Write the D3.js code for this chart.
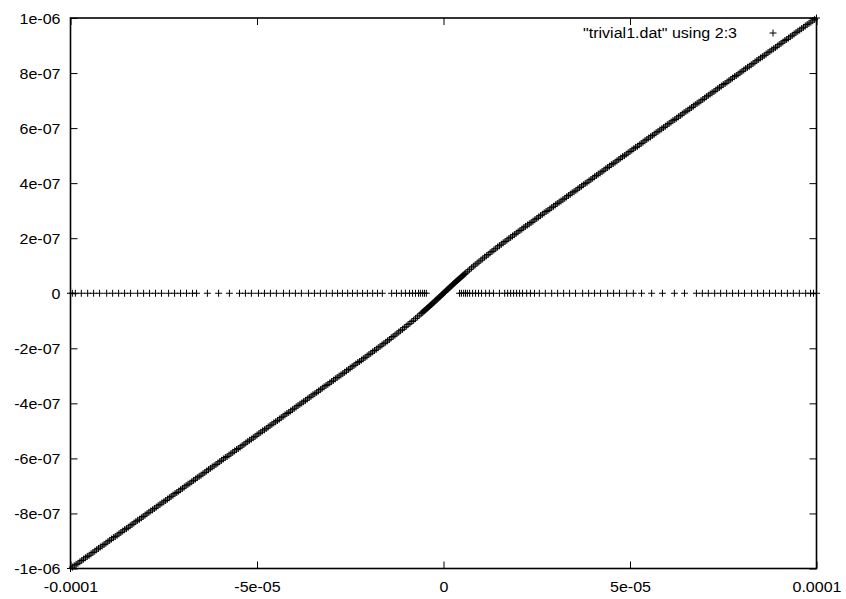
<!DOCTYPE html>
<html>
<head>
<meta charset="utf-8">
<script src="https://cdn.jsdelivr.net/npm/d3@7"></script>
<style>
  body { margin: 0; background: #fff; }
  svg { display: block; }
  text { font-family: "Liberation Sans", Arial, Helvetica, sans-serif; font-size: 15px; fill: #000; }
</style>
</head>
<body>
<svg id="chart" width="846" height="599"></svg>
<script>
// Axis ticks and labels (gnuplot-style exponent formatting)
const xTicks = [-1e-4, -5e-5, 0, 5e-5, 1e-4];
const xTickLabels = ["-0.0001", "-5e-05", "0", "5e-05", "0.0001"];
const yTicks = [-1e-6, -8e-7, -6e-7, -4e-7, -2e-7, 0, 2e-7, 4e-7, 6e-7, 8e-7, 1e-6];
const yTickLabels = ["-1e-06", "-8e-07", "-6e-07", "-4e-07", "-2e-07", "0", "2e-07", "4e-07", "6e-07", "8e-07", "1e-06"];
const seriesLabel = '"trivial1.dat" using 2:3';

// trivial1.dat, columns 2:3 — the diagonal branch
const diagX = [
  -100e-6,-99.5e-6,-99e-6,-98.5e-6,-98e-6,-97.5e-6,-97e-6,-96.5e-6,-96e-6,-95.5e-6,
  -95e-6,-94.5e-6,-94e-6,-93.5e-6,-93e-6,-92.5e-6,-92e-6,-91.5e-6,-91e-6,-90.5e-6,
  -90e-6,-89.5e-6,-89e-6,-88.5e-6,-88e-6,-87.5e-6,-87e-6,-86.5e-6,-86e-6,-85.5e-6,
  -85e-6,-84.5e-6,-84e-6,-83.5e-6,-83e-6,-82.5e-6,-82e-6,-81.5e-6,-81e-6,-80.5e-6,
  -80e-6,-79.5e-6,-79e-6,-78.5e-6,-78e-6,-77.5e-6,-77e-6,-76.5e-6,-76e-6,-75.5e-6,
  -75e-6,-74.5e-6,-74e-6,-73.5e-6,-73e-6,-72.5e-6,-72e-6,-71.5e-6,-71e-6,-70.5e-6,
  -70e-6,-69.5e-6,-69e-6,-68.5e-6,-68e-6,-67.5e-6,-67e-6,-66.5e-6,-66e-6,-65.5e-6,
  -65e-6,-64.5e-6,-64e-6,-63.5e-6,-63e-6,-62.5e-6,-62e-6,-61.5e-6,-61e-6,-60.5e-6,
  -60e-6,-59.5e-6,-59e-6,-58.5e-6,-58e-6,-57.5e-6,-57e-6,-56.5e-6,-56e-6,-55.5e-6,
  -55e-6,-54.5e-6,-54e-6,-53.5e-6,-53e-6,-52.5e-6,-52e-6,-51.5e-6,-51e-6,-50.5e-6,
  -50e-6,-49.5e-6,-49e-6,-48.5e-6,-48e-6,-47.5e-6,-47e-6,-46.5e-6,-46e-6,-45.5e-6,
  -45e-6,-44.5e-6,-44e-6,-43.5e-6,-43e-6,-42.5e-6,-42e-6,-41.5e-6,-41e-6,-40.5e-6,
  -40e-6,-39.5e-6,-39e-6,-38.5e-6,-38e-6,-37.5e-6,-37e-6,-36.5e-6,-36e-6,-35.5e-6,
  -35e-6,-34.5e-6,-34e-6,-33.5e-6,-33e-6,-32.5e-6,-32e-6,-31.5e-6,-31e-6,-30.5e-6,
  -30e-6,-29.5e-6,-29e-6,-28.5e-6,-28e-6,-27.5e-6,-27e-6,-26.5e-6,-26e-6,-25.5e-6,
  -25e-6,-24.5e-6,-24e-6,-23.5e-6,-23e-6,-22.5e-6,-22e-6,-21.5e-6,-21e-6,-20.5e-6,
  -20e-6,-19.5e-6,-19e-6,-18.5e-6,-18e-6,-17.5e-6,-17e-6,-16.5e-6,-16e-6,-15.5e-6,
  -15e-6,-14.5e-6,-14e-6,-13.5e-6,-13e-6,-12.5e-6,-12e-6,-11.5e-6,-11e-6,-10.5e-6,
  -10e-6,-9.5e-6,-9e-6,-8.5e-6,-8e-6,-7.5e-6,-7e-6,-6.5e-6,
  -6e-6,-5.75e-6,-5.5e-6,-5.25e-6,-5e-6,-4.75e-6,-4.5e-6,-4.25e-6,-4e-6,-3.75e-6,-3.5e-6,-3.25e-6,
  -3e-6,-2.75e-6,-2.5e-6,-2.25e-6,-2e-6,-1.75e-6,-1.5e-6,-1.25e-6,-1e-6,-0.75e-6,-0.5e-6,-0.25e-6,
  0,
  0.25e-6,0.5e-6,0.75e-6,1e-6,1.25e-6,1.5e-6,1.75e-6,2e-6,2.25e-6,2.5e-6,2.75e-6,3e-6,
  3.25e-6,3.5e-6,3.75e-6,4e-6,4.25e-6,4.5e-6,4.75e-6,5e-6,5.25e-6,5.5e-6,5.75e-6,6e-6,
  6.5e-6,7e-6,7.5e-6,8e-6,8.5e-6,9e-6,9.5e-6,10e-6,
  10.5e-6,11e-6,11.5e-6,12e-6,12.5e-6,13e-6,13.5e-6,14e-6,14.5e-6,15e-6,
  15.5e-6,16e-6,16.5e-6,17e-6,17.5e-6,18e-6,18.5e-6,19e-6,19.5e-6,20e-6,
  20.5e-6,21e-6,21.5e-6,22e-6,22.5e-6,23e-6,23.5e-6,24e-6,24.5e-6,25e-6,
  25.5e-6,26e-6,26.5e-6,27e-6,27.5e-6,28e-6,28.5e-6,29e-6,29.5e-6,30e-6,
  30.5e-6,31e-6,31.5e-6,32e-6,32.5e-6,33e-6,33.5e-6,34e-6,34.5e-6,35e-6,
  35.5e-6,36e-6,36.5e-6,37e-6,37.5e-6,38e-6,38.5e-6,39e-6,39.5e-6,40e-6,
  40.5e-6,41e-6,41.5e-6,42e-6,42.5e-6,43e-6,43.5e-6,44e-6,44.5e-6,45e-6,
  45.5e-6,46e-6,46.5e-6,47e-6,47.5e-6,48e-6,48.5e-6,49e-6,49.5e-6,50e-6,
  50.5e-6,51e-6,51.5e-6,52e-6,52.5e-6,53e-6,53.5e-6,54e-6,54.5e-6,55e-6,
  55.5e-6,56e-6,56.5e-6,57e-6,57.5e-6,58e-6,58.5e-6,59e-6,59.5e-6,60e-6,
  60.5e-6,61e-6,61.5e-6,62e-6,62.5e-6,63e-6,63.5e-6,64e-6,64.5e-6,65e-6,
  65.5e-6,66e-6,66.5e-6,67e-6,67.5e-6,68e-6,68.5e-6,69e-6,69.5e-6,70e-6,
  70.5e-6,71e-6,71.5e-6,72e-6,72.5e-6,73e-6,73.5e-6,74e-6,74.5e-6,75e-6,
  75.5e-6,76e-6,76.5e-6,77e-6,77.5e-6,78e-6,78.5e-6,79e-6,79.5e-6,80e-6,
  80.5e-6,81e-6,81.5e-6,82e-6,82.5e-6,83e-6,83.5e-6,84e-6,84.5e-6,85e-6,
  85.5e-6,86e-6,86.5e-6,87e-6,87.5e-6,88e-6,88.5e-6,89e-6,89.5e-6,90e-6,
  90.5e-6,91e-6,91.5e-6,92e-6,92.5e-6,93e-6,93.5e-6,94e-6,94.5e-6,95e-6,
  95.5e-6,96e-6,96.5e-6,97e-6,97.5e-6,98e-6,98.5e-6,99e-6,99.5e-6,100e-6
];
const diagY = [
  -1000e-9,-995e-9,-990e-9,-985e-9,-981e-9,-976e-9,-971e-9,-966e-9,-961e-9,-956e-9,
  -952e-9,-947e-9,-942e-9,-937e-9,-932e-9,-927e-9,-922e-9,-918e-9,-913e-9,-908e-9,
  -903e-9,-898e-9,-893e-9,-888e-9,-884e-9,-879e-9,-874e-9,-869e-9,-864e-9,-859e-9,
  -855e-9,-850e-9,-845e-9,-840e-9,-835e-9,-830e-9,-825e-9,-821e-9,-816e-9,-811e-9,
  -806e-9,-801e-9,-796e-9,-791e-9,-787e-9,-782e-9,-777e-9,-772e-9,-767e-9,-762e-9,
  -758e-9,-753e-9,-748e-9,-743e-9,-738e-9,-733e-9,-728e-9,-724e-9,-719e-9,-714e-9,
  -709e-9,-704e-9,-699e-9,-694e-9,-690e-9,-685e-9,-680e-9,-675e-9,-670e-9,-665e-9,
  -661e-9,-656e-9,-651e-9,-646e-9,-641e-9,-636e-9,-631e-9,-627e-9,-622e-9,-617e-9,
  -612e-9,-607e-9,-602e-9,-597e-9,-593e-9,-588e-9,-583e-9,-578e-9,-573e-9,-568e-9,
  -564e-9,-559e-9,-554e-9,-549e-9,-544e-9,-539e-9,-534e-9,-530e-9,-525e-9,-520e-9,
  -515e-9,-510e-9,-505e-9,-500e-9,-496e-9,-491e-9,-486e-9,-481e-9,-476e-9,-471e-9,
  -467e-9,-462e-9,-457e-9,-452e-9,-447e-9,-442e-9,-437e-9,-433e-9,-428e-9,-423e-9,
  -418e-9,-413e-9,-408e-9,-403e-9,-399e-9,-394e-9,-389e-9,-384e-9,-379e-9,-374e-9,
  -369e-9,-365e-9,-360e-9,-355e-9,-350e-9,-345e-9,-340e-9,-335e-9,-331e-9,-326e-9,
  -321e-9,-316e-9,-311e-9,-306e-9,-301e-9,-297e-9,-292e-9,-287e-9,-282e-9,-277e-9,
  -272e-9,-267e-9,-262e-9,-257e-9,-252e-9,-248e-9,-243e-9,-238e-9,-233e-9,-228e-9,
  -223e-9,-218e-9,-213e-9,-208e-9,-203e-9,-198e-9,-193e-9,-188e-9,-183e-9,-178e-9,
  -173e-9,-168e-9,-162e-9,-157e-9,-152e-9,-147e-9,-141e-9,-136e-9,-131e-9,-125e-9,
  -120e-9,-114e-9,-109e-9,-103e-9,-98e-9,-92e-9,-86e-9,-80e-9,
  -74e-9,-71e-9,-68e-9,-65e-9,-62e-9,-59e-9,-56e-9,-53e-9,-50e-9,-47e-9,-44e-9,-41e-9,
  -38e-9,-35e-9,-32e-9,-28e-9,-25e-9,-22e-9,-19e-9,-16e-9,-13e-9,-10e-9,-6e-9,-3e-9,
  0,
  3e-9,6e-9,10e-9,13e-9,16e-9,19e-9,22e-9,25e-9,28e-9,32e-9,35e-9,38e-9,
  41e-9,44e-9,47e-9,50e-9,53e-9,56e-9,59e-9,62e-9,65e-9,68e-9,71e-9,74e-9,
  80e-9,86e-9,92e-9,98e-9,103e-9,109e-9,114e-9,120e-9,
  125e-9,131e-9,136e-9,141e-9,147e-9,152e-9,157e-9,162e-9,168e-9,173e-9,
  178e-9,183e-9,188e-9,193e-9,198e-9,203e-9,208e-9,213e-9,218e-9,223e-9,
  228e-9,233e-9,238e-9,243e-9,248e-9,252e-9,257e-9,262e-9,267e-9,272e-9,
  277e-9,282e-9,287e-9,292e-9,297e-9,301e-9,306e-9,311e-9,316e-9,321e-9,
  326e-9,331e-9,335e-9,340e-9,345e-9,350e-9,355e-9,360e-9,365e-9,369e-9,
  374e-9,379e-9,384e-9,389e-9,394e-9,399e-9,403e-9,408e-9,413e-9,418e-9,
  423e-9,428e-9,433e-9,437e-9,442e-9,447e-9,452e-9,457e-9,462e-9,467e-9,
  471e-9,476e-9,481e-9,486e-9,491e-9,496e-9,500e-9,505e-9,510e-9,515e-9,
  520e-9,525e-9,530e-9,534e-9,539e-9,544e-9,549e-9,554e-9,559e-9,564e-9,
  568e-9,573e-9,578e-9,583e-9,588e-9,593e-9,597e-9,602e-9,607e-9,612e-9,
  617e-9,622e-9,627e-9,631e-9,636e-9,641e-9,646e-9,651e-9,656e-9,661e-9,
  665e-9,670e-9,675e-9,680e-9,685e-9,690e-9,694e-9,699e-9,704e-9,709e-9,
  714e-9,719e-9,724e-9,728e-9,733e-9,738e-9,743e-9,748e-9,753e-9,758e-9,
  762e-9,767e-9,772e-9,777e-9,782e-9,787e-9,791e-9,796e-9,801e-9,806e-9,
  811e-9,816e-9,821e-9,825e-9,830e-9,835e-9,840e-9,845e-9,850e-9,855e-9,
  859e-9,864e-9,869e-9,874e-9,879e-9,884e-9,888e-9,893e-9,898e-9,903e-9,
  908e-9,913e-9,918e-9,922e-9,927e-9,932e-9,937e-9,942e-9,947e-9,952e-9,
  956e-9,961e-9,966e-9,971e-9,976e-9,981e-9,985e-9,990e-9,995e-9,1000e-9
];

// trivial1.dat, columns 2:3 — the branch lying on y = 0
const zeroRowX = [
  -100e-6,-99.5e-6,-98.7e-6,-97.1e-6,-95.4e-6,-93.8e-6,-92.2e-6,-90.3e-6,-88.7e-6,-87.1e-6,
  -85.5e-6,-83.9e-6,-82.0e-6,-80.4e-6,-78.8e-6,-77.2e-6,-75.6e-6,-73.7e-6,-72.1e-6,-70.5e-6,
  -68.9e-6,-67.3e-6,-66.2e-6,-63.3e-6,-60.3e-6,-57.4e-6,-54.7e-6,-53.1e-6,-51.5e-6,-49.6e-6,
  -48.0e-6,-46.4e-6,-44.8e-6,-42.9e-6,-41.3e-6,-39.7e-6,-38.1e-6,-36.2e-6,-34.6e-6,-33.0e-6,
  -31.4e-6,-29.8e-6,-28.4e-6,-27.1e-6,-25.7e-6,-24.4e-6,-23.1e-6,-21.7e-6,-20.4e-6,-19.0e-6,
  -17.7e-6,-16.4e-6,-13.9e-6,-12.6e-6,-11.3e-6,-10.2e-6,-9.1e-6,-8.3e-6,-7.5e-6,-6.7e-6,
  -6.2e-6,-5.6e-6,-5.1e-6,-4.6e-6,
  4.3e-6,4.8e-6,5.4e-6,5.9e-6,6.4e-6,7.0e-6,7.8e-6,8.6e-6,9.4e-6,10.2e-6,
  11.3e-6,12.3e-6,13.4e-6,15.0e-6,16.4e-6,17.2e-6,18.0e-6,18.8e-6,19.6e-6,20.4e-6,
  21.2e-6,22.3e-6,23.3e-6,24.4e-6,25.7e-6,27.3e-6,29.0e-6,30.6e-6,32.2e-6,33.8e-6,
  35.4e-6,37.3e-6,38.9e-6,40.5e-6,42.1e-6,44.0e-6,45.6e-6,47.2e-6,49.1e-6,50.9e-6,
  53.1e-6,55.8e-6,58.7e-6,61.9e-6,64.6e-6,67.8e-6,69.4e-6,71.0e-6,72.7e-6,74.3e-6,
  75.9e-6,77.5e-6,79.1e-6,80.7e-6,82.6e-6,84.2e-6,85.8e-6,87.4e-6,89.0e-6,90.6e-6,
  92.2e-6,93.8e-6,95.4e-6,97.1e-6,98.4e-6,99.2e-6,100e-6
];
const zeroRowY = 0;

const svg = d3.select("#chart");
const plot = { left: 70.5, right: 816.5, top: 18, bottom: 568.5 };
const x = d3.scaleLinear().domain([-1e-4, 1e-4]).range([plot.left, plot.right]);
const y = d3.scaleLinear().domain([-1e-6, 1e-6]).range([plot.bottom, plot.top]);
const TICK = 7;
const STRETCH = 1.07; // the terminal font is a little wider than Liberation Sans

// data points as "+" marks
const points = diagX.map((v, i) => [v, diagY[i]])
  .concat(zeroRowX.map(v => [v, zeroRowY]));
const cross = "M-3.5,0H3.5M0,-3.5V3.5";
svg.append("g")
  .selectAll("path")
  .data(points)
  .join("path")
  .attr("d", cross)
  .attr("transform", d => `translate(${x(d[0])},${y(d[1])})`)
  .attr("fill", "none")
  .attr("stroke", "#000")
  .attr("stroke-width", 1);

// axes with inward ticks, mirrored on top and right
function styleAxis(g) {
  g.select(".domain").remove();
  g.selectAll(".tick line").attr("stroke", "#000").attr("stroke-width", 1);
  g.selectAll(".tick text").attr("fill", "#000").style("font-size", "15px")
    .attr("font-family", null);
}

const gBottom = svg.append("g")
  .attr("transform", `translate(0,${plot.bottom})`)
  .call(d3.axisBottom(x).tickValues(xTicks)
    .tickFormat((d, i) => xTickLabels[i])
    .tickSizeInner(-TICK).tickSizeOuter(0).tickPadding(13))
  .call(styleAxis);
gBottom.selectAll(".tick text").attr("transform", `scale(${STRETCH},1)`);

const gLeft = svg.append("g")
  .attr("transform", `translate(${plot.left},0)`)
  .call(d3.axisLeft(y).tickValues(yTicks)
    .tickFormat((d, i) => yTickLabels[i])
    .tickSizeInner(-TICK).tickSizeOuter(0).tickPadding(10))
  .call(styleAxis);
gLeft.selectAll(".tick text")
  .attr("x", 0)
  .attr("dy", "0.35em")
  .attr("transform", `translate(-10,0) scale(${STRETCH},1)`);

svg.append("g")
  .attr("transform", `translate(0,${plot.top})`)
  .call(d3.axisTop(x).tickValues(xTicks).tickFormat("")
    .tickSizeInner(-TICK).tickSizeOuter(0))
  .call(styleAxis);

svg.append("g")
  .attr("transform", `translate(${plot.right},0)`)
  .call(d3.axisRight(y).tickValues(yTicks).tickFormat("")
    .tickSizeInner(-TICK).tickSizeOuter(0))
  .call(styleAxis);

// plot border
svg.append("rect")
  .attr("x", plot.left).attr("y", plot.top)
  .attr("width", plot.right - plot.left)
  .attr("height", plot.bottom - plot.top)
  .attr("fill", "none")
  .attr("stroke", "#000")
  .attr("stroke-width", 1.6);

// key
const key = svg.append("g").attr("transform", "translate(0,33)");
key.append("text")
  .attr("text-anchor", "end")
  .attr("dy", "0.35em")
  .attr("transform", `translate(737,0) scale(${STRETCH},1)`)
  .text(seriesLabel);
key.append("path")
  .attr("d", cross)
  .attr("transform", "translate(773,0)")
  .attr("fill", "none")
  .attr("stroke", "#000")
  .attr("stroke-width", 1);
</script>
</body>
</html>
